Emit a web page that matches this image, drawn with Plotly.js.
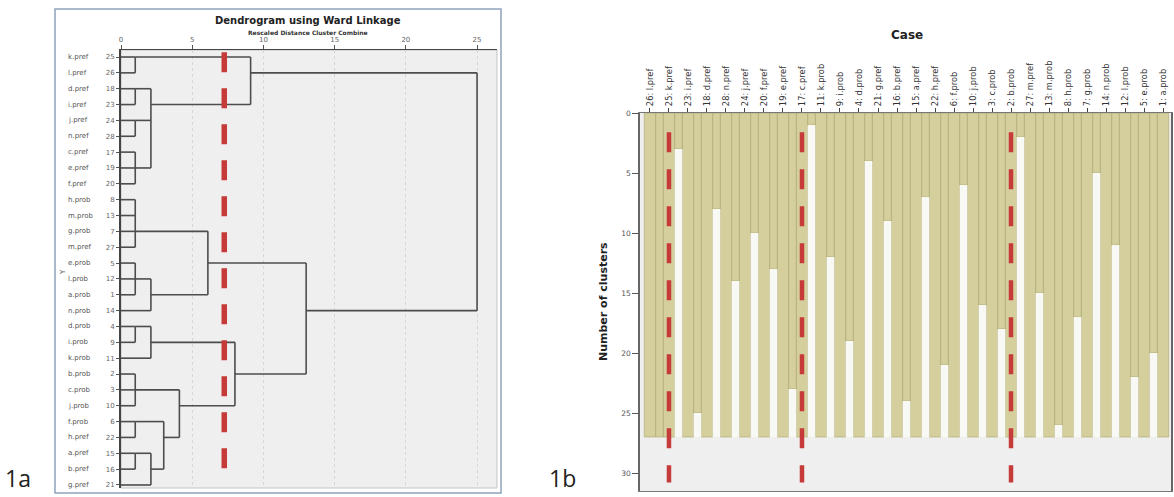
<!DOCTYPE html>
<html>
<head>
<meta charset="utf-8">
<script src="https://cdn.plot.ly/plotly-3.0.1.min.js"></script>
<style>html,body{margin:0;padding:0;background:#fff;}#chart{width:1174px;height:497px;}</style>
</head>
<body>
<div id="chart"></div>
<script>
// ---------- Panel 1a: dendrogram data ----------
const leafNames = ['k.pref','l.pref','d.pref','i.pref','j.pref','n.pref','c.pref','e.pref','f.pref',
  'h.prob','m.prob','g.prob','m.pref','e.prob','l.prob','a.prob','n.prob','d.prob','i.prob','k.prob',
  'b.prob','c.prob','j.prob','f.prob','h.pref','a.pref','b.pref','g.pref'];
const leafIds = [25,26,18,23,24,28,17,19,20,8,13,7,27,5,12,1,14,4,9,11,2,3,10,6,22,15,16,21];
// each merge: rows (1-based leaf rows) of the joined branches, rescaled distance, row of the new branch
const mergeRows = [[1,2],[3,4],[5,6],[7,8,9],[3,5,8],[1,4],[10,11,12,13],[14,15,16],[15,17],[12,16],
  [18,19],[18,20],[21,22,23],[24,25],[26,27],[26,28],[24,27],[22,25],[19,23],[14,21],[2,17]];
const mergeDist = [1.0,1.0,1.0,1.0,2.1,9.1,1.0,1.0,2.1,6.1,1.0,2.1,1.0,1.0,1.0,2.1,3.0,4.1,8.0,13.0,25.0];
const mergeOut  = [1,3,5,8,4,2,12,15,16,14,18,19,22,24,26,27,25,23,21,17,null];
const distTicks = [0,5,10,15,20,25];
const cutDistance = 7.25;

// ---------- Panel 1b: icicle data ----------
const caseLabels = ['26: l.pref','25: k.pref','23: i.pref','18: d.pref','28: n.pref','24: j.pref','20: f.pref',
  '19: e.pref','17: c.pref','11: k.prob','9: i.prob','4: d.prob','21: g.pref','16: b.pref','15: a.pref',
  '22: h.pref','6: f.prob','10: j.prob','3: c.prob','2: b.prob','27: m.pref','13: m.prob','8: h.prob',
  '7: g.prob','14: n.prob','12: l.prob','5: e.prob','1: a.prob'];
// number of clusters at which neighbouring cases separate (gap becomes white)
const splitAt = [27,3,25,8,14,10,13,23,1,12,19,4,9,24,7,21,6,16,18,2,15,26,17,5,11,22,20];
const maxClusters = 27;
const clusterTicks = [0,5,10,15,20,25,30];
const cutCases = ['25: k.pref','17: c.pref','2: b.prob'];

// ---------- build ----------
const W = 1174, H = 497;
const px = x => x / W;
const py = y => 1 - y / H;
const RED = '#c63a3a';

// dendrogram segments
const curX = new Array(leafNames.length + 1).fill(0);
const dx = [], dy = [];
mergeRows.forEach((rows, k) => {
  const d = mergeDist[k];
  rows.forEach(r => { dx.push(curX[r], d, null); dy.push(r, r, null); });
  dx.push(d, d, null); dy.push(Math.min(...rows), Math.max(...rows), null);
  if (mergeOut[k] !== null) curX[mergeOut[k]] = d;
});
const rows = leafNames.map((_, i) => i + 1);

const traces = [];
traces.push({type:'scatter', mode:'lines', x:dx, y:dy, xaxis:'x', yaxis:'y',
  line:{color:'#4d4d4d', width:1.6}, hoverinfo:'skip', showlegend:false});
traces.push({type:'scatter', mode:'lines', x:[cutDistance, cutDistance], y:[0.7, 27.4], xaxis:'x', yaxis:'y',
  line:{color:RED, width:5.5, dash:'20px,16px'}, hoverinfo:'skip', showlegend:false});

// icicle
const caseX = caseLabels.map((_, i) => 2 * i);
const gapX = splitAt.map((_, i) => 2 * i + 1);
const KHAKI = '#d4cf9c', EDGE = '#aaa46d';
traces.push({type:'bar', x:caseX, y:caseX.map(() => maxClusters), base:0, width:1.2,
  marker:{color:KHAKI, line:{color:EDGE, width:0.6}}, xaxis:'x2', yaxis:'y2', showlegend:false, hoverinfo:'skip'});
traces.push({type:'bar', x:gapX, y:splitAt, base:0, width:0.8,
  marker:{color:KHAKI, line:{color:EDGE, width:0.6}}, xaxis:'x2', yaxis:'y2', showlegend:false, hoverinfo:'skip'});
traces.push({type:'bar', x:gapX, y:splitAt.map(v => maxClusters - v), base:splitAt, width:0.8,
  marker:{color:'#f8f8f5', line:{width:0}}, xaxis:'x2', yaxis:'y2', showlegend:false, hoverinfo:'skip'});
cutCases.forEach(c => {
  const xc = 2 * caseLabels.indexOf(c);
  traces.push({type:'scatter', mode:'lines', x:[xc, xc], y:[1.6, 30.8], xaxis:'x2', yaxis:'y2',
    line:{color:RED, width:4.5, dash:'20px,17px'}, hoverinfo:'skip', showlegend:false});
});

const annotations = [];
leafNames.forEach((n, i) => annotations.push({xref:'paper', yref:'y', x:px(66), y:i + 1, text:n,
  showarrow:false, xanchor:'left', yanchor:'middle', font:{family:'DejaVu Sans', size:7, color:'#555'}}));
annotations.push({xref:'paper', yref:'paper', x:px(308), y:py(20), text:'<b>Dendrogram using Ward Linkage</b>',
  showarrow:false, xanchor:'center', yanchor:'middle', font:{family:'DejaVu Sans', size:10, color:'#222'}});
annotations.push({xref:'paper', yref:'paper', x:px(308), y:py(33), text:'<b>Rescaled Distance Cluster Combine</b>',
  showarrow:false, xanchor:'center', yanchor:'middle', font:{family:'DejaVu Sans', size:6, color:'#333'}});
annotations.push({xref:'paper', yref:'paper', x:px(63), y:py(272), text:'Y', textangle:-90,
  showarrow:false, xanchor:'center', yanchor:'middle', font:{family:'DejaVu Sans', size:7, color:'#555'}});
annotations.push({xref:'paper', yref:'paper', x:px(907), y:py(35), text:'<b>Case</b>',
  showarrow:false, xanchor:'center', yanchor:'middle', font:{family:'DejaVu Sans', size:12, color:'#222'}});
annotations.push({xref:'paper', yref:'paper', x:px(603), y:py(302), text:'<b>Number of clusters</b>', textangle:-90,
  showarrow:false, xanchor:'center', yanchor:'middle', font:{family:'DejaVu Sans', size:11, color:'#222'}});
annotations.push({xref:'paper', yref:'paper', x:px(3), y:py(478), text:'1a',
  showarrow:false, xanchor:'left', yanchor:'middle', font:{family:'Open Sans', size:23, color:'#222'}});
annotations.push({xref:'paper', yref:'paper', x:px(547), y:py(478), text:'1b',
  showarrow:false, xanchor:'left', yanchor:'middle', font:{family:'Open Sans', size:23, color:'#222'}});

const layout = {
  width:W, height:H, margin:{l:0, r:0, t:0, b:0}, paper_bgcolor:'#ffffff', plot_bgcolor:'#efefef',
  barmode:'overlay', showlegend:false,
  font:{family:'DejaVu Sans', color:'#444'},
  xaxis:{domain:[px(121), px(497)], anchor:'y', side:'top', range:[0, 26.4], tickvals:distTicks,
    ticks:'outside', ticklen:4, tickcolor:'#555', showline:true, linecolor:'#444', linewidth:1.5,
    showgrid:true, gridcolor:'#d6d6d6', griddash:'dot', zeroline:false,
    tickfont:{family:'DejaVu Sans', size:7, color:'#666'}},
  yaxis:{domain:[py(488), py(50)], anchor:'x', range:[28.19, 0.558], tickvals:rows, ticktext:leafIds.map(String),
    ticks:'outside', ticklen:3, tickcolor:'#555', showline:true, linecolor:'#444', linewidth:2,
    showgrid:false, zeroline:false, tickfont:{family:'DejaVu Sans', size:7, color:'#666'}},
  xaxis2:{domain:[px(640), px(1171)], anchor:'y2', side:'top', range:[-1.05, 54.84], tickvals:caseX, ticktext:caseLabels,
    tickangle:-90, ticks:'outside', ticklen:4, tickcolor:'#444', showline:true, linecolor:'#777', linewidth:1.2, mirror:true,
    showgrid:false, zeroline:false, tickfont:{family:'DejaVu Sans', size:8.3, color:'#333'}},
  yaxis2:{domain:[py(491), py(113)], anchor:'x2', range:[31.5, 0], tickvals:clusterTicks,
    ticks:'outside', ticklen:6, tickcolor:'#555', showline:true, linecolor:'#666', linewidth:1.6, mirror:true,
    showgrid:false, zeroline:false, tickfont:{family:'DejaVu Sans', size:7.5, color:'#555'}},
  shapes:[
    {type:'rect', xref:'paper', yref:'paper', x0:px(55), x1:px(501), y0:py(493), y1:py(9),
      line:{color:'#8ea3bc', width:1.5}, fillcolor:'rgba(0,0,0,0)', layer:'below'},
    {type:'rect', xref:'paper', yref:'paper', x0:px(121), x1:px(497), y0:py(488), y1:py(50),
      line:{color:'#c4c4c4', width:1}, fillcolor:'rgba(0,0,0,0)', layer:'below'}
  ],
  annotations:annotations
};

Plotly.newPlot('chart', traces, layout, {displayModeBar:false, staticPlot:true});
</script>
</body>
</html>
